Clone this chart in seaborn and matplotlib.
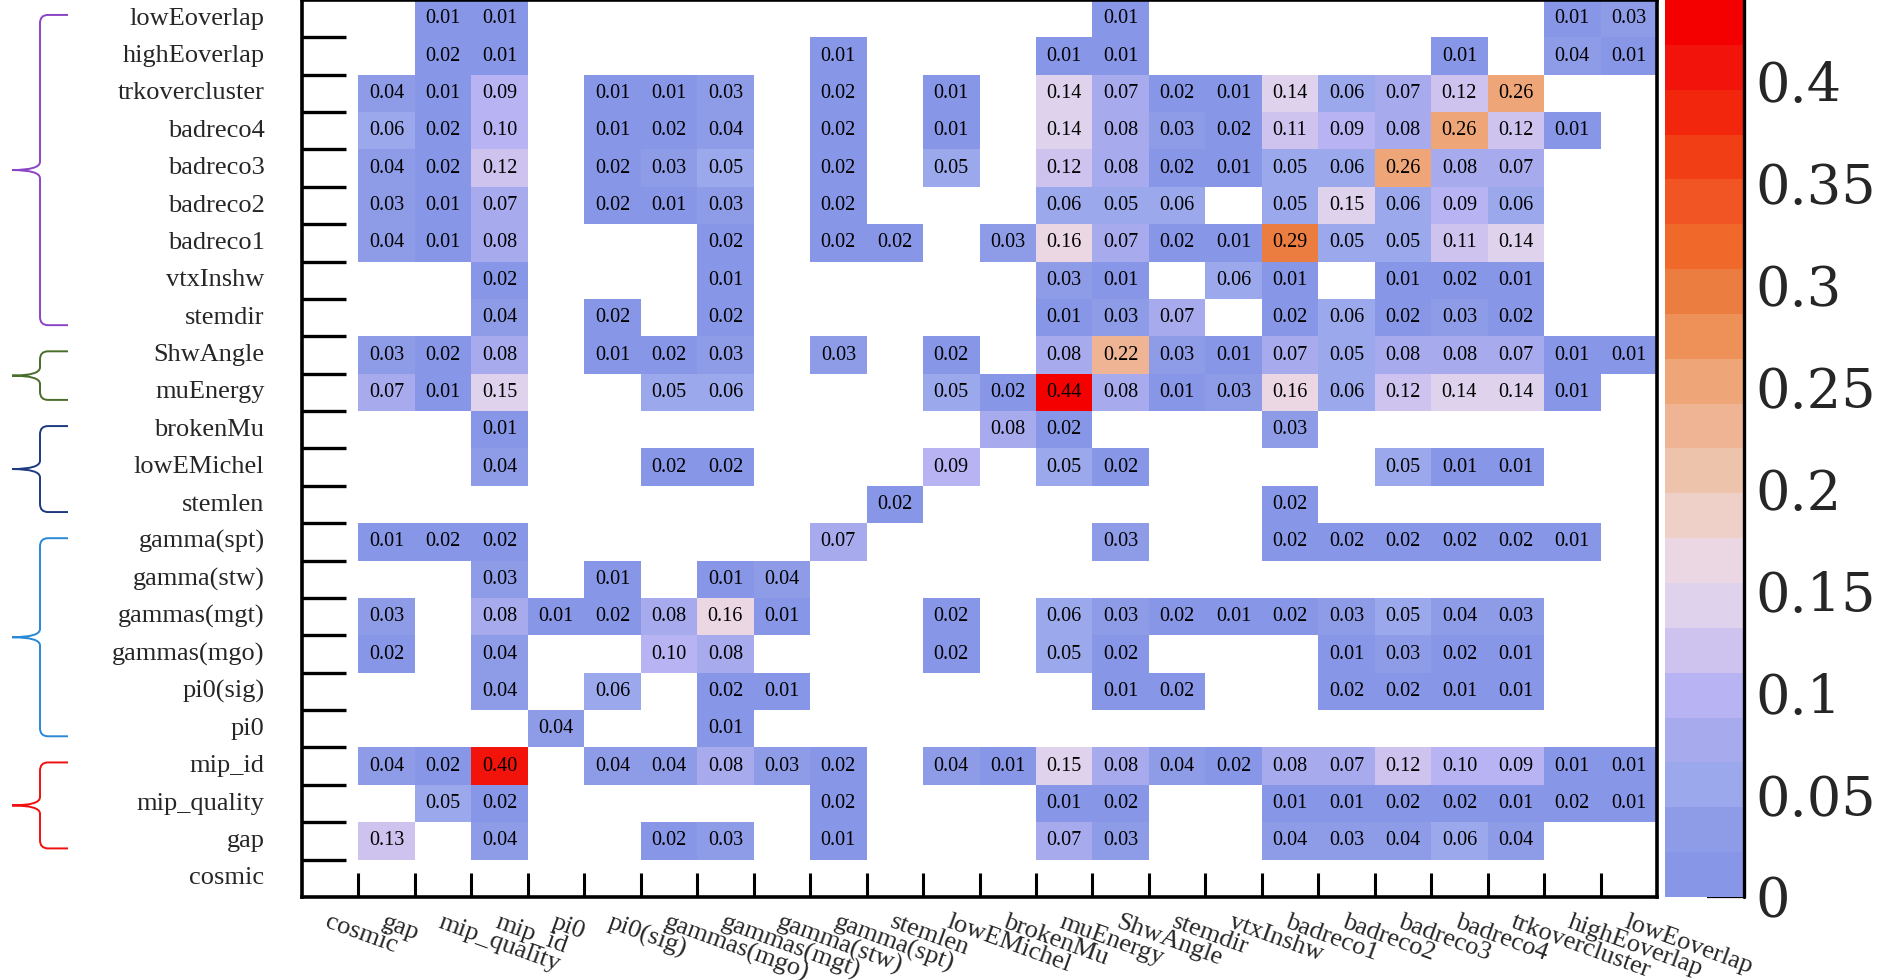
import numpy as np
import pandas as pd
import matplotlib
matplotlib.use("Agg")
import matplotlib.pyplot as plt
import seaborn as sns
from matplotlib.colors import ListedColormap
from matplotlib.path import Path
from matplotlib.patches import PathPatch
from matplotlib.transforms import blended_transform_factory

# ---- categories (x order, left to right; y order is the reverse, bottom to top)
categories = ["cosmic", "gap", "mip_quality", "mip_id", "pi0", "pi0(sig)",
              "gammas(mgo)", "gammas(mgt)", "gamma(stw)", "gamma(spt)", "stemlen",
              "lowEMichel", "brokenMu", "muEnergy", "ShwAngle", "stemdir", "vtxInshw",
              "badreco1", "badreco2", "badreco3", "badreco4", "trkovercluster",
              "highEoverlap", "lowEoverlap"]

# ---- overlap fractions, one list per row (columns follow `categories`)
lowEoverlap    = [0, 0, .01, .01, 0, 0, 0, 0, 0, 0, 0, 0, 0, 0, .01, 0, 0, 0, 0, 0, 0, 0, .01, .03]
highEoverlap   = [0, 0, .02, .01, 0, 0, 0, 0, 0, .01, 0, 0, 0, .01, .01, 0, 0, 0, 0, 0, .01, 0, .04, .01]
trkovercluster = [0, .04, .01, .09, 0, .01, .01, .03, 0, .02, 0, .01, 0, .14, .07, .02, .01, .14, .06, .07, .12, .26, 0, 0]
badreco4       = [0, .06, .02, .10, 0, .01, .02, .04, 0, .02, 0, .01, 0, .14, .08, .03, .02, .11, .09, .08, .26, .12, .01, 0]
badreco3       = [0, .04, .02, .12, 0, .02, .03, .05, 0, .02, 0, .05, 0, .12, .08, .02, .01, .05, .06, .26, .08, .07, 0, 0]
badreco2       = [0, .03, .01, .07, 0, .02, .01, .03, 0, .02, 0, 0, 0, .06, .05, .06, 0, .05, .15, .06, .09, .06, 0, 0]
badreco1       = [0, .04, .01, .08, 0, 0, 0, .02, 0, .02, .02, 0, .03, .16, .07, .02, .01, .29, .05, .05, .11, .14, 0, 0]
vtxInshw       = [0, 0, 0, .02, 0, 0, 0, .01, 0, 0, 0, 0, 0, .03, .01, 0, .06, .01, 0, .01, .02, .01, 0, 0]
stemdir        = [0, 0, 0, .04, 0, .02, 0, .02, 0, 0, 0, 0, 0, .01, .03, .07, 0, .02, .06, .02, .03, .02, 0, 0]
ShwAngle       = [0, .03, .02, .08, 0, .01, .02, .03, 0, .03, 0, .02, 0, .08, .22, .03, .01, .07, .05, .08, .08, .07, .01, .01]
muEnergy       = [0, .07, .01, .15, 0, 0, .05, .06, 0, 0, 0, .05, .02, .44, .08, .01, .03, .16, .06, .12, .14, .14, .01, 0]
brokenMu       = [0, 0, 0, .01, 0, 0, 0, 0, 0, 0, 0, 0, .08, .02, 0, 0, 0, .03, 0, 0, 0, 0, 0, 0]
lowEMichel     = [0, 0, 0, .04, 0, 0, .02, .02, 0, 0, 0, .09, 0, .05, .02, 0, 0, 0, 0, .05, .01, .01, 0, 0]
stemlen        = [0, 0, 0, 0, 0, 0, 0, 0, 0, 0, .02, 0, 0, 0, 0, 0, 0, .02, 0, 0, 0, 0, 0, 0]
gamma_spt      = [0, .01, .02, .02, 0, 0, 0, 0, 0, .07, 0, 0, 0, 0, .03, 0, 0, .02, .02, .02, .02, .02, .01, 0]
gamma_stw      = [0, 0, 0, .03, 0, .01, 0, .01, .04, 0, 0, 0, 0, 0, 0, 0, 0, 0, 0, 0, 0, 0, 0, 0]
gammas_mgt     = [0, .03, 0, .08, .01, .02, .08, .16, .01, 0, 0, .02, 0, .06, .03, .02, .01, .02, .03, .05, .04, .03, 0, 0]
gammas_mgo     = [0, .02, 0, .04, 0, 0, .10, .08, 0, 0, 0, .02, 0, .05, .02, 0, 0, 0, .01, .03, .02, .01, 0, 0]
pi0_sig        = [0, 0, 0, .04, 0, .06, 0, .02, .01, 0, 0, 0, 0, 0, .01, .02, 0, 0, .02, .02, .01, .01, 0, 0]
pi0            = [0, 0, 0, 0, .04, 0, 0, .01, 0, 0, 0, 0, 0, 0, 0, 0, 0, 0, 0, 0, 0, 0, 0, 0]
mip_id         = [0, .04, .02, .40, 0, .04, .04, .08, .03, .02, 0, .04, .01, .15, .08, .04, .02, .08, .07, .12, .10, .09, .01, .01]
mip_quality    = [0, 0, .05, .02, 0, 0, 0, 0, 0, .02, 0, 0, 0, .01, .02, 0, 0, .01, .01, .02, .02, .01, .02, .01]
gap            = [0, .13, 0, .04, 0, 0, .02, .03, 0, .01, 0, 0, 0, .07, .03, 0, 0, .04, .03, .04, .06, .04, 0, 0]
cosmic         = [0] * 24

# rows listed top to bottom
row_labels = categories[::-1]
matrix_rows = [lowEoverlap, highEoverlap, trkovercluster, badreco4, badreco3, badreco2,
               badreco1, vtxInshw, stemdir, ShwAngle, muEnergy, brokenMu, lowEMichel,
               stemlen, gamma_spt, gamma_stw, gammas_mgt, gammas_mgo, pi0_sig, pi0,
               mip_id, mip_quality, gap, cosmic]

# bracket groups on the left: (first row, last row, colour)
groups = [("lowEoverlap", "stemdir", "#8b44c6"),
          ("ShwAngle", "muEnergy", "#4a6e2a"),
          ("brokenMu", "stemlen", "#1d3a80"),
          ("gamma(spt)", "pi0", "#2a88d4"),
          ("mip_id", "gap", "#f01010")]

# 20-step blue-white-red palette (low to high)
palette = ["#8796e6", "#8e9ce8", "#9ba8ec", "#a8aaee", "#b8b4f4", "#cdc3ee",
           "#ded2ec", "#ebd7e4", "#eed0c8", "#eec3ac", "#eeb493", "#eea577",
           "#ee9158", "#ec7d41", "#f0692a", "#f05523", "#f23e14", "#f2260d",
           "#f2140a", "#f50000"]

df = pd.DataFrame(matrix_rows, index=row_labels, columns=categories)

sns.set_style("white")
plt.rcParams["font.family"] = ["Liberation Serif", "DejaVu Serif"]

W, H = 1895, 980
fig = plt.figure(figsize=(W / 100, H / 100), dpi=100)
ax = fig.add_axes([302 / W, 83 / H, (1657 - 302) / W, 897 / H])
cax = fig.add_axes([1665 / W, 83 / H, 79 / W, 897 / H])

sns.heatmap(df, mask=(df == 0), cmap=ListedColormap(palette),
            vmin=0, vmax=float(df.values.max()),
            annot=True, fmt=".2f",
            annot_kws={"fontsize": 14.5, "color": "black", "family": "Liberation Serif"},
            linewidths=0, ax=ax, cbar_ax=cax)

n = len(categories)
centers = np.arange(n) + 0.5
bounds = np.arange(1, n)

# axis frame
for s in ax.spines.values():
    s.set_visible(True)
    s.set_color("black")
    s.set_linewidth(2.6)

# labels at cell centres, tick marks on the cell boundaries
ax.set_yticks(centers)
ax.set_yticklabels(row_labels, rotation=0, va="center", fontsize=19)
ax.set_xticks(centers)
ax.set_xticklabels(categories, rotation=-20, ha="left", va="top",
                   rotation_mode="anchor", fontsize=19)
ax.set_xticks(bounds, minor=True)
ax.set_yticks(bounds, minor=True)
ax.tick_params(axis="y", which="major", length=0, pad=27, left=True)
ax.tick_params(axis="x", which="major", length=0, pad=10, bottom=True)
ax.tick_params(axis="y", which="minor", direction="in", length=32, width=2.4,
               color="black", left=True, right=False)
ax.tick_params(axis="x", which="minor", direction="in", length=17, width=2.2,
               color="black", bottom=True, top=False)
ax.set_xlabel("")
ax.set_ylabel("")

# colour scale
cbar = ax.collections[0].colorbar
cb_ticks = np.arange(0, 0.401, 0.05)
cbar.set_ticks(cb_ticks, labels=[f"{t:g}" for t in np.round(cb_ticks, 2)])
cbar.outline.set_visible(False)
cax.yaxis.set_ticks_position("right")
cax.tick_params(axis="y", which="major", direction="in", length=27, width=1.6,
                color="black", pad=8, labelsize=39)
cax.tick_params(axis="y", which="minor", length=0)
for lbl in cax.get_yticklabels():
    lbl.set_fontfamily("DejaVu Serif")
    lbl.set_fontsize(39)
cax.plot([1, 1], [0, 1], transform=cax.transAxes, color="black", lw=2.4,
         clip_on=False)

# curly brackets grouping the rows
trans = blended_transform_factory(fig.transFigure, ax.transData)
x_line, x_end, x_tip = 40 / W, 68 / W, 12 / W
dx = 8 / W
for first, last, color in groups:
    y0 = row_labels.index(first) + 0.5 - 0.1
    y1 = row_labels.index(last) + 0.5 + 0.2
    ym = 0.5 * (y0 + y1)
    dy = 0.22
    verts = [(x_end, y0),
             (x_line + dx, y0), (x_line, y0), (x_line, y0 + dy),
             (x_line, ym - dy),
             (x_line, ym), (x_tip, ym),
             (x_line, ym), (x_line, ym + dy),
             (x_line, y1 - dy),
             (x_line, y1), (x_line + dx, y1),
             (x_end, y1)]
    codes = [Path.MOVETO,
             Path.LINETO, Path.CURVE3, Path.CURVE3,
             Path.LINETO,
             Path.CURVE3, Path.CURVE3,
             Path.CURVE3, Path.CURVE3,
             Path.LINETO,
             Path.CURVE3, Path.CURVE3,
             Path.LINETO]
    ax.add_patch(PathPatch(Path(verts, codes), transform=trans, fill=False,
                           edgecolor=color, lw=1.4, clip_on=False))

fig.savefig("out.png", dpi=100, facecolor="white")
